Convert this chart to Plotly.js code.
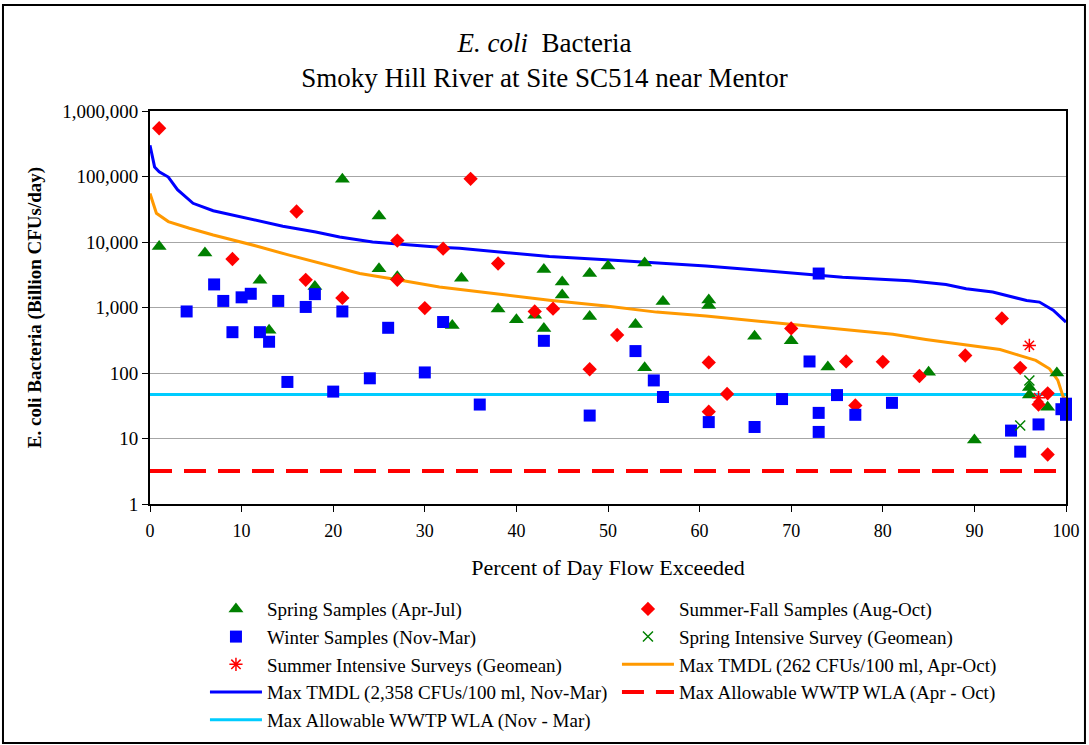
<!DOCTYPE html>
<html>
<head>
<meta charset="utf-8">
<script src="https://cdn.plot.ly/plotly-3.0.1.min.js"></script>
<style>
html,body{margin:0;padding:0;background:#fff;}
#chart{width:1089px;height:745px;}
</style>
</head>
<body>
<div id="chart"></div>
<script>
// ---- Data ----
const springX = [1, 6, 12, 13, 18, 21, 25, 25, 27, 33, 34, 38, 40, 42, 43, 43, 45, 45, 48, 48, 50, 53, 54, 54, 56, 61, 61, 66, 70, 74, 85, 90, 96, 96, 98, 99];
const springY = [8500, 6800, 2600, 450, 2100, 91000, 25000, 3900, 2950, 530, 2800, 950, 650, 760, 3800, 480, 2450, 1550, 3300, 730, 4300, 550, 4800, 120, 1240, 1300, 1070, 365, 310, 123, 103, 9.5, 60, 46, 30, 100];

const summerX = [1, 9, 16, 17, 21, 27, 27, 30, 32, 35, 38, 42, 44, 48, 51, 61, 61, 63, 70, 76, 77, 80, 84, 89, 93, 95, 97, 98, 98];
const summerY = [545000, 5500, 29200, 2650, 1400, 10500, 2650, 980, 7900, 92000, 4700, 870, 960, 114, 380, 145, 25.7, 48, 480, 150, 32, 148, 90, 185, 680, 120, 33, 49, 5.7];

const winterX = [4, 7, 8, 9, 10, 11, 12, 13, 14, 15, 17, 18, 20, 21, 24, 26, 30, 32, 36, 43, 48, 53, 55, 56, 61, 66, 69, 72, 73, 73, 73, 75, 77, 81, 94, 95, 97, 99.5, 100, 100];
const winterY = [870, 2250, 1260, 420, 1430, 1620, 420, 300, 1260, 73, 1020, 1600, 52, 870, 83, 490, 102, 600, 33, 310, 22.4, 216, 77, 43, 17.8, 15, 40, 150, 3300, 24.6, 12.6, 46, 23, 35, 13.2, 6.3, 16.4, 28, 34, 23];

const springSurveyX = [95, 96];
const springSurveyY = [15.8, 77];

const summerSurveyX = [96, 97];
const summerSurveyY = [264, 42];

const tmdlSummerX = [0, 0.7, 2, 4.3, 6.9, 9.4, 11.6, 15.2, 19.2, 22.9, 27.2, 31.6, 38.9, 43.6, 49.8, 55.3, 60.7, 66.5, 72, 77.5, 81.1, 84.7, 89.1, 92.8, 94.9, 96.7, 98.2, 99.1, 99.7, 100];
const tmdlSummerY = [55000, 27400, 20500, 16200, 12800, 10500, 8700, 6300, 4450, 3300, 2630, 2050, 1550, 1290, 1050, 850, 740, 620, 520, 435, 390, 325, 265, 228, 186, 156, 116, 78, 43, 40];

const tmdlWinterX = [0, 0.5, 1, 2, 3, 4.7, 6.9, 9, 11.6, 14.5, 18.1, 20.7, 24.3, 28, 31.6, 33.8, 43.6, 49.8, 57, 60.7, 66.5, 70.2, 75.6, 82.9, 86.9, 89.1, 92, 95.7, 97.1, 98.6, 99.7, 100];
const tmdlWinterY = [300000, 140000, 118000, 98000, 63000, 39000, 30000, 26000, 21700, 17400, 14200, 11900, 10000, 9000, 8300, 8000, 6000, 5350, 4650, 4300, 3700, 3380, 2900, 2550, 2250, 1940, 1720, 1280, 1210, 910, 660, 600];

const wlaSummerX = [0, 100];
const wlaSummerY = [3.2, 3.2];

const wlaWinterX = [0, 100];
const wlaWinterY = [47, 47];

const yTickVals = [1, 10, 100, 1000, 10000, 100000, 1000000];
const yTickText = ['1', '10', '100', '1,000', '10,000', '100,000', '1,000,000'];
const xTickVals = [0, 10, 20, 30, 40, 50, 60, 70, 80, 90, 100];

const names = {
  spring: 'Spring Samples (Apr-Jul)',
  summer: 'Summer-Fall Samples (Aug-Oct)',
  winter: 'Winter Samples (Nov-Mar)',
  springSurvey: 'Spring Intensive Survey (Geomean)',
  summerSurvey: 'Summer Intensive Surveys (Geomean)',
  tmdlSummer: 'Max TMDL (262 CFUs/100 ml, Apr-Oct)',
  tmdlWinter: 'Max TMDL (2,358 CFUs/100 ml, Nov-Mar)',
  wlaSummer: 'Max Allowable WWTP WLA (Apr - Oct)',
  wlaWinter: 'Max Allowable WWTP WLA (Nov - Mar)'
};

const FONT = '"Liberation Serif", "Times New Roman", serif';

const traces = [
  {x: wlaWinterX, y: wlaWinterY, name: names.wlaWinter, mode: 'lines', legendrank: 9,
   line: {color: '#00ccff', width: 3}},
  {x: wlaSummerX, y: wlaSummerY, name: names.wlaSummer, mode: 'lines', legendrank: 8,
   line: {color: '#ff0000', width: 4, dash: '22px,12px'}},
  {x: tmdlSummerX, y: tmdlSummerY, name: names.tmdlSummer, mode: 'lines', legendrank: 6,
   line: {color: '#ff9900', width: 3}},
  {x: tmdlWinterX, y: tmdlWinterY, name: names.tmdlWinter, mode: 'lines', legendrank: 7,
   line: {color: '#0000ff', width: 3}},
  {x: springX, y: springY, name: names.spring, mode: 'markers', legendrank: 1, cliponaxis: false,
   marker: {symbol: 'triangle-up', size: 13, color: '#008000'}},
  {x: summerX, y: summerY, name: names.summer, mode: 'markers', legendrank: 2, cliponaxis: false,
   marker: {symbol: 'diamond', size: 11, color: '#ff0000'}},
  {x: winterX, y: winterY, name: names.winter, mode: 'markers', legendrank: 3, cliponaxis: false,
   marker: {symbol: 'square', size: 12, color: '#0000ff'}},
  {x: springSurveyX, y: springSurveyY, name: names.springSurvey, mode: 'markers', legendrank: 4, cliponaxis: false,
   marker: {symbol: 'x-thin-open', size: 10, color: '#008000', line: {color: '#008000', width: 1.5}}},
  {x: summerSurveyX, y: summerSurveyY, name: names.summerSurvey, mode: 'markers', legendrank: 5, cliponaxis: false,
   marker: {symbol: 'asterisk-open', size: 11, color: '#ff0000', line: {color: '#ff0000', width: 1.5}}}
];

const layout = {
  width: 1089, height: 745,
  margin: {l: 150, r: 23, t: 111, b: 241, autoexpand: false},
  paper_bgcolor: '#ffffff', plot_bgcolor: '#ffffff',
  font: {family: FONT, color: '#000000', size: 18},
  title: {
    text: '<i>E. coli</i>  Bacteria<br>Smoky Hill River at Site SC514 near Mentor',
    font: {family: FONT, size: 27, color: '#000'},
    x: 0.5, xref: 'container', y: 0.93, yref: 'container', yanchor: 'top'
  },
  xaxis: {
    range: [0, 100], tickvals: xTickVals, ticks: 'outside', ticklen: 6, tickcolor: '#000', tickwidth: 1,
    showgrid: false, zeroline: false, showline: true, mirror: true, linecolor: '#000', linewidth: 2,
    tickfont: {family: FONT, size: 18}, automargin: false, ticklabelstandoff: 3,
    title: {text: 'Percent of Day Flow Exceeded', font: {family: FONT, size: 22}, standoff: 20}
  },
  yaxis: {
    type: 'log', range: [0, 6], tickvals: yTickVals, ticktext: yTickText,
    ticks: 'outside', ticklen: 6, tickcolor: '#000', tickwidth: 1,
    showgrid: true, gridcolor: '#a6a6a6', gridwidth: 1, zeroline: false,
    showline: true, mirror: true, linecolor: '#000', linewidth: 2,
    tickfont: {family: FONT, size: 19}, automargin: false,
    title: {text: '<b>E. coli Bacteria (Billion CFUs/day)</b>', font: {family: FONT, size: 19}, standoff: 16}
  },
  showlegend: true,
  legend: {
    orientation: 'h', x: 0.06, xanchor: 'left', yref: 'container', y: 0.208, yanchor: 'top',
    entrywidth: 345, entrywidthmode: 'pixels', itemwidth: 52,
    font: {family: FONT, size: 19}, bgcolor: 'rgba(0,0,0,0)', traceorder: 'normal'
  },
  shapes: [{
    type: 'rect', xref: 'paper', yref: 'paper',
    x0: -0.1605, x1: 1.0207, y0: -0.608, y1: 1.2697,
    line: {color: '#000', width: 2}, fillcolor: 'rgba(0,0,0,0)', layer: 'below'
  }]
};

Plotly.newPlot('chart', traces, layout, {displayModeBar: false, staticPlot: true});
</script>
</body>
</html>
